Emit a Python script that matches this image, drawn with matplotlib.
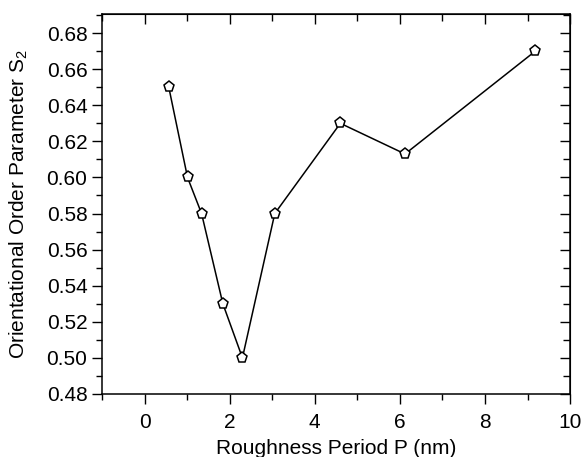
import numpy as np
import matplotlib.pyplot as plt
from matplotlib.ticker import MultipleLocator

period = [0.57, 1.01, 1.34, 1.84, 2.30, 3.06, 4.60, 6.12, 9.18]
s2 = [0.650, 0.600, 0.580, 0.530, 0.500, 0.580, 0.630, 0.613, 0.670]

plt.rcParams['font.family'] = ['Liberation Sans', 'DejaVu Sans']
plt.rcParams['mathtext.default'] = 'regular'

fig = plt.figure(figsize=(5.86, 4.57), dpi=100)
ax = fig.add_axes([0.174, 0.138, 0.799, 0.831])

ax.plot(period, s2, color='black', lw=1.1, marker='p', ms=8,
        mfc='white', mec='black', mew=1.1)

ax.set_xlim(-1, 10)
ax.set_ylim(0.48, 0.6905)
ax.xaxis.set_major_locator(MultipleLocator(2))
ax.xaxis.set_minor_locator(MultipleLocator(1))
ax.yaxis.set_major_locator(MultipleLocator(0.02))
ax.yaxis.set_minor_locator(MultipleLocator(0.01))
ax.yaxis.set_major_formatter(plt.FormatStrFormatter('%.2f'))

ax.tick_params(which='both', direction='out', labelsize=15, width=1)
ax.tick_params(which='major', length=7)
ax.tick_params(which='minor', length=4)
ax.tick_params(axis='x', which='major', pad=7)
for sp in ax.spines.values():
    sp.set_linewidth(1.1)

# mirrored ticks pointing inward on top and right
axt = ax.secondary_xaxis('top')
axt.xaxis.set_major_locator(MultipleLocator(2))
axt.xaxis.set_minor_locator(MultipleLocator(1))
axt.tick_params(which='both', direction='in', labeltop=False, width=1)
axt.tick_params(which='major', length=7)
axt.tick_params(which='minor', length=5)
axr = ax.secondary_yaxis('right')
axr.yaxis.set_major_locator(MultipleLocator(0.02))
axr.yaxis.set_minor_locator(MultipleLocator(0.01))
axr.tick_params(which='both', direction='in', labelright=False, width=1)
axr.tick_params(which='major', length=7)
axr.tick_params(which='minor', length=5)

ax.set_xlabel('Roughness Period P (nm)', fontsize=15, labelpad=5)
ax.set_ylabel('Orientational Order Parameter S$_2$', fontsize=15, labelpad=12)

fig.savefig('out.png', dpi=100)
